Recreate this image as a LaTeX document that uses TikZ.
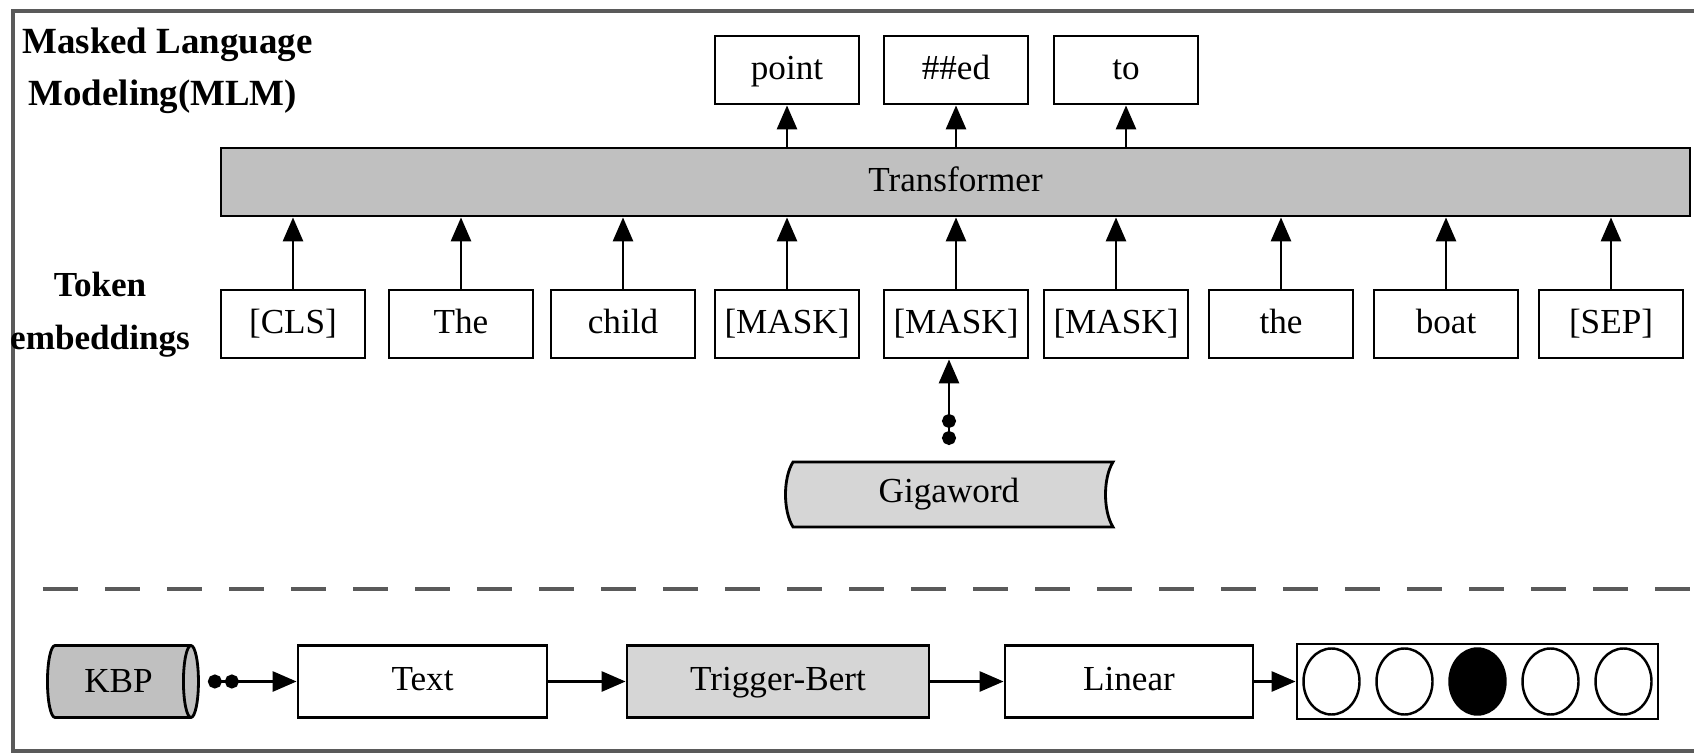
\documentclass[tikz,border=0pt]{standalone}
\usepackage{fontspec}
\setmainfont{Liberation Serif}
\usepackage{tikz}
\usetikzlibrary{arrows.meta, shapes.geometric}

\definecolor{bargray}{RGB}{192,192,192}
\definecolor{lightgray}{RGB}{214,214,214}
\definecolor{framegray}{RGB}{90,90,90}

\begin{document}
\begin{tikzpicture}[font=\fontsize{10}{12}\selectfont]
    \tikzstyle{tok} = [rectangle, draw=black, line width=0.8pt, minimum width=1.44cm, minimum height=0.68cm, inner sep=0pt, fill=white, text height=1.55ex, text depth=0.4ex]
    \tikzstyle{blk} = [rectangle, draw=black, line width=0.8pt, minimum height=0.72cm, inner sep=0pt, fill=white, text height=1.55ex, text depth=0.4ex]
    \tikzstyle{arr} = [-{Triangle[length=2.4mm, width=2mm]}, line width=0.8pt]
    \tikzstyle{dotarr} = [{Circle[length=1.4mm, sep=0.5mm] Circle[length=1.4mm, sep=0.3mm]}-{Triangle[length=2.4mm, width=2mm]}, line width=0.8pt]
    \tikzstyle{ball} = [ellipse, draw=black, line width=0.7pt, minimum width=0.56cm, minimum height=0.66cm, inner sep=0pt]
    \useasboundingbox (0,0) rectangle (16.94,7.53);
    % frame and separator
    \draw[framegray, line width=1.2pt] (17.5,7.42) -- (0.13,7.42) -- (0.13,0.02) -- (17.5,0.02);
    \draw[framegray, line width=1.2pt, dash pattern=on 0.35cm off 0.27cm] (0.43,1.64) -- (16.94,1.64);
    % labels
    \node[anchor=north west, align=left, font=\fontsize{10.5}{15}\selectfont\bfseries] (mlm) at (0.1,7.38) {Masked Language\\ \,Modeling(MLM)};
    \node[align=center, font=\fontsize{10}{15}\selectfont\bfseries] (emb) at (1.0,4.38) {Token\\embeddings};
    % MLM part
    \node[rectangle, draw=black, line width=0.8pt, fill=bargray, minimum width=14.69cm, minimum height=0.68cm, text height=1.55ex, text depth=0.4ex] (tr) at (9.555,5.71) {Transformer};
    \node[tok] (o1) at (7.87,6.83) {point};
    \node[tok] (o2) at (9.56,6.83) {\#\#ed};
    \node[tok] (o3) at (11.26,6.83) {to};
    \node[tok] (t1) at (2.93,4.29) {[CLS]};
    \node[tok] (t2) at (4.61,4.29) {The};
    \node[tok] (t3) at (6.23,4.29) {child};
    \node[tok] (t4) at (7.87,4.29) {[MASK]};
    \node[tok] (t5) at (9.56,4.29) {[MASK]};
    \node[tok] (t6) at (11.16,4.29) {[MASK]};
    \node[tok] (t7) at (12.81,4.29) {the};
    \node[tok] (t8) at (14.46,4.29) {boat};
    \node[tok] (t9) at (16.11,4.29) {[SEP]};
    \draw[arr] (tr.north -| o1.south) -- (o1.south);
    \draw[arr] (tr.north -| o2.south) -- (o2.south);
    \draw[arr] (tr.north -| o3.south) -- (o3.south);
    \draw[arr] (t1.north) -- (t1.north |- tr.south);
    \draw[arr] (t2.north) -- (t2.north |- tr.south);
    \draw[arr] (t3.north) -- (t3.north |- tr.south);
    \draw[arr] (t4.north) -- (t4.north |- tr.south);
    \draw[arr] (t5.north) -- (t5.north |- tr.south);
    \draw[arr] (t6.north) -- (t6.north |- tr.south);
    \draw[arr] (t7.north) -- (t7.north |- tr.south);
    \draw[arr] (t8.north) -- (t8.north |- tr.south);
    \draw[arr] (t9.north) -- (t9.north |- tr.south);
    % Gigaword tape
    \draw[line width=0.8pt, fill=lightgray] (7.93,2.91) -- (11.13,2.91)
        .. controls (11.03,2.75) and (11.03,2.42) .. (11.13,2.26) -- (7.93,2.26)
        .. controls (7.83,2.42) and (7.83,2.75) .. cycle;
    \node (gw) at (9.49,2.585) {Gigaword};
    \draw[dotarr, shorten <=1.2mm] (gw.north |- 0,2.91) -- (gw.north |- t5.south);
    % classification part
    \node[cylinder, draw=black, line width=0.8pt, shape aspect=0.65, minimum width=0.72cm, minimum height=1.51cm, cylinder uses custom fill, cylinder body fill=bargray, cylinder end fill=bargray, inner sep=0pt] (kbp) at (1.185,0.715) {KBP};
    \node[blk, minimum width=2.49cm] (txt) at (4.225,0.715) {Text};
    \node[blk, minimum width=3.02cm, fill=lightgray] (tb) at (7.78,0.715) {Trigger-Bert};
    \node[blk, minimum width=2.48cm] (lin) at (11.29,0.715) {Linear};
    \node[blk, minimum width=3.61cm, minimum height=0.75cm] (out) at (14.775,0.715) {};
    \node[ball] (c1) at (13.315,0.715) {};
    \node[ball] (c2) at (14.045,0.715) {};
    \node[ball, fill=black] (c3) at (14.775,0.715) {};
    \node[ball] (c4) at (15.505,0.715) {};
    \node[ball] (c5) at (16.235,0.715) {};
    \draw[dotarr, shorten <=0.3mm] (kbp.east) -- (txt.west);
    \draw[arr] (txt.east) -- (tb.west);
    \draw[arr] (tb.east) -- (lin.west);
    \draw[arr] (lin.east) -- (out.west);
\end{tikzpicture}
\end{document}
